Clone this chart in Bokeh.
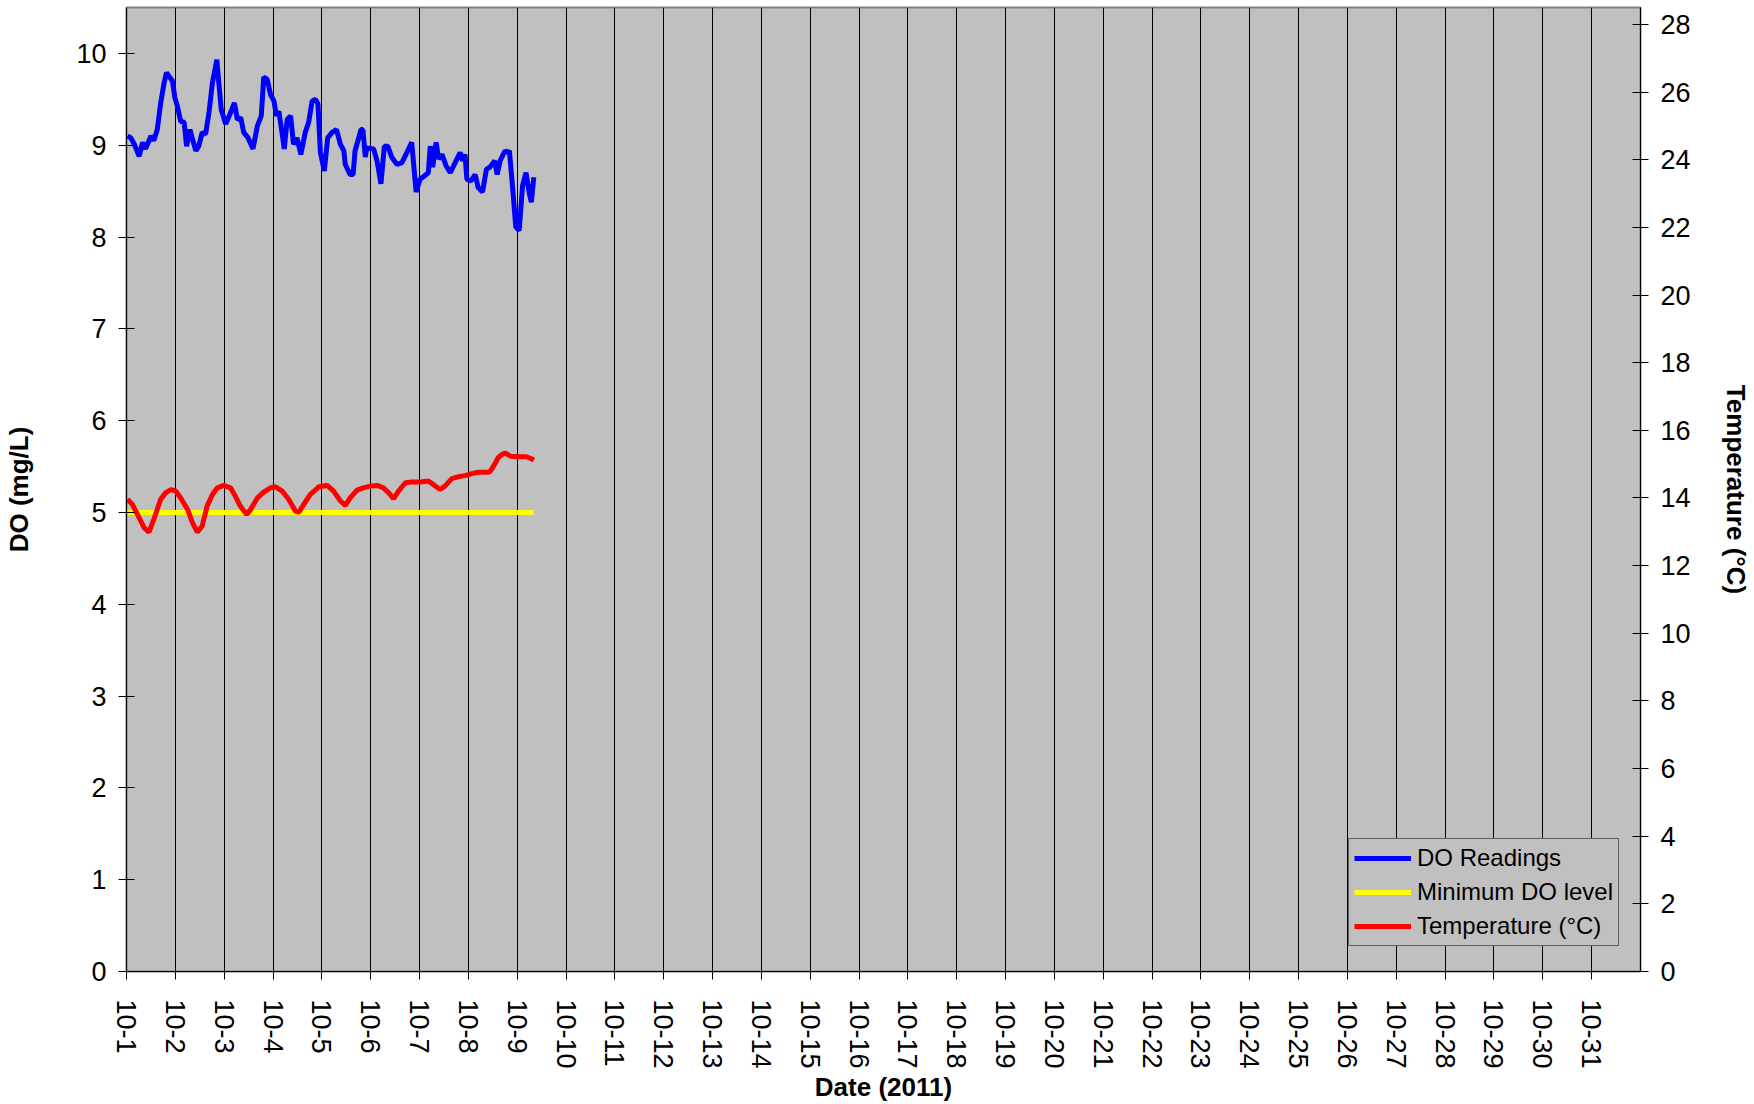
import math
from bokeh.plotting import figure
from bokeh.models import (Range1d, LinearAxis, FixedTicker, Legend, LegendItem,
                          ColumnDataSource)
from bokeh.embed import file_html
from bokeh.resources import INLINE

# ---------------- data ----------------
# days since 1 Oct 2011 (0 = 10-1)
do_days = [0.02, 0.09, 0.16, 0.26, 0.33, 0.39, 0.50, 0.56, 0.63, 0.70, 0.77, 0.82, 0.87, 0.94,
           0.99, 1.04, 1.11, 1.18, 1.23, 1.30, 1.35, 1.42, 1.48, 1.55, 1.62, 1.69, 1.76, 1.85,
           1.89, 1.94, 2.03, 2.12, 2.21, 2.27, 2.34, 2.40, 2.49, 2.59, 2.68, 2.76, 2.81, 2.88,
           2.95, 3.02, 3.07, 3.12, 3.17, 3.23, 3.29, 3.36, 3.42, 3.49, 3.57, 3.66, 3.73, 3.80,
           3.87, 3.92, 3.97, 4.05, 4.12, 4.21, 4.30, 4.38, 4.45, 4.48, 4.58, 4.64, 4.68, 4.75,
           4.80, 4.84, 4.89, 4.92, 5.06, 5.13, 5.21, 5.28, 5.35, 5.43, 5.54, 5.64, 5.74, 5.84,
           5.93, 6.01, 6.11, 6.18, 6.22, 6.27, 6.34, 6.39, 6.46, 6.54, 6.63, 6.73, 6.83, 6.88,
           6.93, 6.97, 7.05, 7.14, 7.20, 7.29, 7.37, 7.44, 7.54, 7.59, 7.65, 7.75, 7.80, 7.84,
           7.92, 7.97, 8.04, 8.11, 8.18, 8.25, 8.29, 8.34]
do_values = [9.10, 9.08, 9.01, 8.88, 9.03, 8.96, 9.10, 9.05, 9.17, 9.46, 9.68, 9.79, 9.75, 9.70,
             9.52, 9.43, 9.26, 9.25, 8.99, 9.17, 9.07, 8.94, 8.99, 9.14, 9.12, 9.36, 9.68, 9.93,
             9.68, 9.39, 9.23, 9.34, 9.46, 9.28, 9.30, 9.14, 9.08, 8.96, 9.21, 9.32, 9.74, 9.72,
             9.55, 9.48, 9.32, 9.37, 9.19, 8.96, 9.28, 9.32, 9.01, 9.08, 8.90, 9.14, 9.25, 9.48,
             9.50, 9.45, 8.92, 8.72, 9.08, 9.14, 9.17, 9.01, 8.94, 8.79, 8.68, 8.68, 8.94, 9.07,
             9.17, 9.17, 8.87, 8.97, 8.96, 8.83, 8.58, 8.99, 8.99, 8.87, 8.79, 8.81, 8.92, 9.03,
             8.49, 8.63, 8.67, 8.70, 8.99, 8.76, 9.03, 8.85, 8.90, 8.78, 8.70, 8.81, 8.92, 8.83,
             8.90, 8.63, 8.61, 8.68, 8.54, 8.49, 8.74, 8.76, 8.83, 8.68, 8.83, 8.94, 8.92, 8.94,
             8.45, 8.11, 8.07, 8.56, 8.70, 8.47, 8.38, 8.65]
min_do_level = 5.0

temp_days = [0.02, 0.12, 0.26, 0.36, 0.46, 0.56, 0.70, 0.80, 0.91, 1.01, 1.11, 1.25, 1.35, 1.45,
             1.55, 1.65, 1.76, 1.86, 1.99, 2.13, 2.23, 2.33, 2.46, 2.54, 2.68, 2.81, 2.95, 3.05,
             3.19, 3.32, 3.46, 3.53, 3.63, 3.76, 3.94, 4.11, 4.24, 4.38, 4.48, 4.58, 4.72, 4.85,
             4.99, 5.13, 5.26, 5.37, 5.47, 5.57, 5.71, 5.84, 6.01, 6.18, 6.28, 6.42, 6.52, 6.66,
             6.80, 6.93, 7.07, 7.20, 7.34, 7.44, 7.54, 7.61, 7.68, 7.75, 7.87, 8.02, 8.19, 8.29,
             8.34]
temp_values = [13.96, 13.81, 13.41, 13.12, 12.99, 13.37, 13.96, 14.15, 14.25, 14.20, 14.00, 13.66,
               13.27, 12.99, 13.17, 13.76, 14.10, 14.30, 14.37, 14.30, 14.05, 13.76, 13.51, 13.66,
               14.00, 14.17, 14.30, 14.33, 14.20, 13.96, 13.61, 13.58, 13.81, 14.10, 14.33, 14.37,
               14.20, 13.91, 13.78, 14.00, 14.23, 14.30, 14.35, 14.37, 14.30, 14.15, 13.98, 14.20,
               14.45, 14.47, 14.47, 14.50, 14.40, 14.25, 14.35, 14.57, 14.63, 14.66, 14.72, 14.76,
               14.76, 14.77, 15.00, 15.19, 15.28, 15.33, 15.23, 15.22, 15.22, 15.16, 15.12]

tick_days = list(range(31))
tick_labels = ["10-%d" % (d + 1) for d in tick_days]
do_ticks = list(range(0, 11))
temp_ticks = list(range(0, 29, 2))

FONT = "Liberation Sans"

p = figure(width=1754, height=1104, output_backend="svg", toolbar_location=None,
           x_range=Range1d(0, 31), y_range=Range1d(0, 10.5),
           min_border_left=126, min_border_right=114, min_border_top=7, min_border_bottom=131)
p.background_fill_color = "#C0C0C0"
p.border_fill_color = "white"
p.outline_line_color = "#808080"
p.outline_line_width = 2

p.extra_y_ranges = {"temp": Range1d(0, 28.5)}

# x axis
xa = p.xaxis[0]
xa.ticker = FixedTicker(ticks=tick_days)
xa.major_label_overrides = {d: lab for d, lab in zip(tick_days, tick_labels)}
xa.major_label_orientation = -math.pi / 2
xa.axis_label = "Date (2011)"

# left axis
ya = p.yaxis[0]
ya.ticker = FixedTicker(ticks=do_ticks)
ya.axis_label = "DO (mg/L)"

# right axis
ra = LinearAxis(y_range_name="temp", axis_label="Temperature (°C)")
ra.ticker = FixedTicker(ticks=temp_ticks)
p.add_layout(ra, "right")

for ax in (xa, ya, ra):
    ax.axis_line_color = "black"
    ax.axis_line_width = 1
    ax.major_tick_line_color = "black"
    ax.major_tick_out = 8
    ax.minor_tick_line_color = None
    ax.major_label_text_font = FONT
    ax.major_label_text_font_size = "27px"
    ax.major_label_text_color = "black"
    ax.major_label_standoff = 12
    ax.axis_label_text_font = FONT
    ax.axis_label_text_font_size = "26px"
    ax.axis_label_text_font_style = "bold"
    ax.axis_label_text_color = "black"
xa.major_tick_in = 0
xa.major_label_standoff = 20
xa.axis_label_standoff = 0
ya.major_tick_in = 8
ra.major_tick_in = 8
ya.axis_label_standoff = 39
ra.axis_label_standoff = 27

p.xgrid.ticker = FixedTicker(ticks=tick_days)
p.xgrid.grid_line_color = "black"
p.xgrid.grid_line_width = 1
p.ygrid.grid_line_color = None

src_do = ColumnDataSource(dict(x=do_days, y=do_values, m=[min_do_level] * len(do_days)))
src_t = ColumnDataSource(dict(x=temp_days, y=temp_values))

r_min = p.line("x", "m", source=src_do, line_color="#FFFF00", line_width=5)
r_t = p.line("x", "y", source=src_t, line_color="#FF0000", line_width=5, y_range_name="temp")
r_do = p.line("x", "y", source=src_do, line_color="#0000FF", line_width=5)

legend = Legend(items=[LegendItem(label="DO Readings", renderers=[r_do]),
                       LegendItem(label="Minimum DO level", renderers=[r_min]),
                       LegendItem(label="Temperature (°C)", renderers=[r_t])],
                location=(1222, 25))
legend.background_fill_color = "#C0C0C0"
legend.background_fill_alpha = 1
legend.border_line_color = "black"
legend.border_line_width = 1
legend.label_text_font = FONT
legend.label_text_font_size = "24px"
legend.label_text_color = "black"
legend.glyph_width = 57
legend.glyph_height = 24
legend.label_height = 24
legend.label_standoff = 6
legend.spacing = 6
legend.padding = 5
legend.margin = 0
p.add_layout(legend)

open("out.html", "w").write(file_html(p, INLINE))
